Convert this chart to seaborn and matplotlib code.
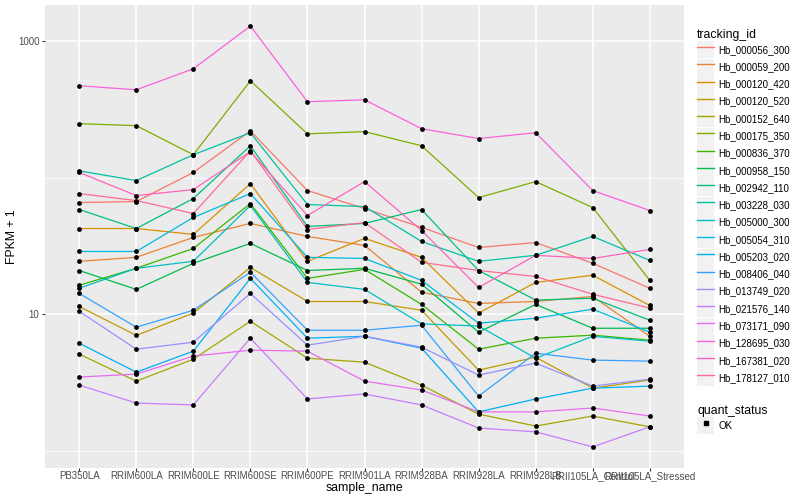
import numpy as np
import pandas as pd
import matplotlib
matplotlib.use("Agg")
import matplotlib.pyplot as plt
import seaborn as sns
from matplotlib.lines import Line2D
from matplotlib.patches import Rectangle
from matplotlib.ticker import FixedLocator, NullFormatter

# Data (FPKM + 1, log axis)
sample_names = ["PB350LA", "RRIM600LA", "RRIM600LE", "RRIM600SE", "RRIM600PE",
                "RRIM901LA", "RRIM928BA", "RRIM928LA", "RRIM928LB",
                "RRII105LA_Control", "RRII105LA_Stressed"]

hb_000056_300 = [65.7, 66.8, 109, 220, 80.4, 59.4, 43.2, 30.8, 33.5, 23.6, 15.5]
hb_000059_200 = [24.4, 26.1, 36.5, 46.2, 37.1, 31.9, 14.5, 12.0, 12.4, 13.5, 6.9]
hb_000120_420 = [42.4, 42.4, 38.4, 90.4, 24.4, 35.9, 26.1, 10.2, 17.1, 19.3, 11.6]
hb_000120_520 = [11.4, 7.0, 10.2, 22.0, 12.4, 12.4, 10.7, 3.9, 4.85, 2.88, 3.3]
hb_000152_640 = [5.11, 3.24, 4.69, 8.89, 4.77, 4.46, 3.03, 1.86, 1.52, 1.80, 1.50]
hb_000175_350 = [248, 240, 147, 511, 209, 217, 171, 71.4, 93.5, 60.4, 17.7]
hb_000836_370 = [16.3, 21.7, 30.3, 64.6, 18.3, 21.3, 11.8, 5.55, 6.68, 7.03, 6.46]
hb_000958_150 = [20.9, 15.2, 23.6, 33.0, 20.9, 21.7, 16.6, 7.39, 11.8, 7.9, 7.9]
hb_002942_110 = [58.4, 42.4, 70.3, 171, 43.9, 46.2, 58.4, 20.9, 12.7, 13.1, 9.04]
hb_003228_030 = [112, 95.1, 147, 213, 63.5, 61.4, 34.1, 24.4, 27.0, 37.1, 24.8]
hb_005000_300 = [15.5, 21.7, 24.4, 62.5, 17.1, 15.2, 8.5, 8.2, 4.77, 6.9, 6.35]
hb_005054_310 = [28.8, 28.8, 51.1, 76.4, 26.1, 25.6, 17.7, 8.6, 9.35, 10.9, 7.39]
hb_005203_020 = [6.14, 3.77, 5.37, 18.3, 6.68, 6.9, 5.65, 1.93, 2.40, 2.88, 2.98]
hb_008406_040 = [14.2, 8.04, 10.7, 20.3, 7.64, 7.64, 8.31, 2.52, 5.19, 4.62, 4.54]
hb_013749_020 = [10.5, 5.55, 6.25, 14.2, 5.94, 6.9, 5.74, 3.59, 4.39, 2.98, 3.35]
hb_021576_140 = [3.03, 2.24, 2.17, 6.68, 2.40, 2.61, 2.17, 1.47, 1.38, 1.07, 1.50]
hb_073171_090 = [3.47, 3.65, 4.94, 5.46, 5.37, 3.24, 2.79, 1.93, 1.93, 2.06, 1.80]
hb_128695_030 = [470, 439, 625, 1286, 359, 371, 228, 193, 213, 80.4, 57.4]
hb_167381_020 = [109, 73.9, 81.7, 155, 52.8, 93.5, 41.0, 15.7, 27.0, 25.6, 29.8]
hb_178127_010 = [76.4, 67.9, 54.6, 157, 41.7, 46.9, 24.0, 20.9, 18.9, 14.0, 11.1]

tracking_ids = ["Hb_000056_300", "Hb_000059_200", "Hb_000120_420", "Hb_000120_520",
                "Hb_000152_640", "Hb_000175_350", "Hb_000836_370", "Hb_000958_150",
                "Hb_002942_110", "Hb_003228_030", "Hb_005000_300", "Hb_005054_310",
                "Hb_005203_020", "Hb_008406_040", "Hb_013749_020", "Hb_021576_140",
                "Hb_073171_090", "Hb_128695_030", "Hb_167381_020", "Hb_178127_010"]
series = [hb_000056_300, hb_000059_200, hb_000120_420, hb_000120_520,
          hb_000152_640, hb_000175_350, hb_000836_370, hb_000958_150,
          hb_002942_110, hb_003228_030, hb_005000_300, hb_005054_310,
          hb_005203_020, hb_008406_040, hb_013749_020, hb_021576_140,
          hb_073171_090, hb_128695_030, hb_167381_020, hb_178127_010]

# ggplot default hue palette for 20 levels
colors = ["#F8766D", "#EA8331", "#D89000", "#C09B00", "#A3A500", "#7CAE00",
          "#39B600", "#00BB4E", "#00BF7D", "#00C1A3", "#00BFC4", "#00BAE0",
          "#00B0F6", "#35A2FF", "#9590FF", "#C77CFF", "#E76BF3", "#FA62DB",
          "#FF62BC", "#FF6C91"]

rows = []
for tid, vals in zip(tracking_ids, series):
    for s, v in zip(sample_names, vals):
        rows.append({"tracking_id": tid, "sample_name": s, "fpkm": v, "quant_status": "OK"})
df = pd.DataFrame(rows)
df["x"] = df["sample_name"].map({s: i for i, s in enumerate(sample_names)})

plt.rcParams["font.family"] = ["Liberation Sans", "DejaVu Sans"]

fig = plt.figure(figsize=(8, 5), dpi=100)
ax = fig.add_axes([45 / 800, 1 - 468 / 500, (684 - 45) / 800, (468 - 5) / 500])
ax.set_facecolor("#EBEBEB")

sns.lineplot(data=df, x="x", y="fpkm", hue="tracking_id", hue_order=tracking_ids,
             palette=colors, estimator=None, sort=False, errorbar=None,
             linewidth=0.9, legend=False, ax=ax, zorder=3)
sns.scatterplot(data=df, x="x", y="fpkm", color="black", s=12, linewidth=0,
                marker="o", legend=False, ax=ax, zorder=4)

ax.set_yscale("log")
ax.set_xlim(-0.6, len(sample_names) - 1 + 0.6)
ax.set_ylim(10 ** -0.125, 10 ** 3.263)
ax.set_xticks(range(len(sample_names)))
ax.set_xticklabels(sample_names)
ax.yaxis.set_major_locator(FixedLocator([10, 1000]))
ax.set_yticklabels(["10", "1000"])
ax.yaxis.set_minor_locator(FixedLocator([1, 100]))
ax.yaxis.set_minor_formatter(NullFormatter())

ax.grid(which="major", color="white", linewidth=1.1, zorder=0)
ax.grid(which="minor", axis="y", color="white", linewidth=0.55, zorder=0)
ax.set_axisbelow(True)
for sp in ax.spines.values():
    sp.set_visible(False)
ax.tick_params(which="major", length=2.5, width=0.8, color="#333333",
               labelsize=7, labelcolor="#4D4D4D")
ax.tick_params(axis="x", which="major", pad=-0.5)
ax.tick_params(axis="y", which="major", pad=1.5)
ax.tick_params(which="minor", length=0)

ax.set_xlabel("sample_name", fontsize=8.8)
ax.set_ylabel("FPKM + 1", fontsize=8.8)
ax.xaxis.set_label_coords(0.5, (468 - 482) / 463)
ax.yaxis.set_label_coords((12 - 45) / 639, 0.5)
ax.xaxis.label.set_va("top")
ax.yaxis.label.set_va("center")

# legends, ggplot-like grey key boxes
key_bg = "#F2F2F2"
leg_kw = dict(loc="upper left", frameon=False, fontsize=7, title_fontsize=8.8,
              handlelength=1.75, handleheight=2.31, labelspacing=0.03,
              handletextpad=0.45, borderaxespad=0, borderpad=0)

handles = [(Rectangle((0, 0), 1, 1, facecolor=key_bg, edgecolor="none"),
            Line2D([], [], color=c, linewidth=1.0)) for c in colors]
leg1 = fig.legend(handles, tracking_ids, bbox_to_anchor=(697 / 800, 1 - 29 / 500),
                  title="tracking_id", **leg_kw)
leg1._legend_box.align = "left"

h2 = [(Rectangle((0, 0), 1, 1, facecolor=key_bg, edgecolor="none"),
       Line2D([], [], color="black", marker="s", markersize=2.5, linestyle="none"))]
leg2 = fig.legend(h2, ["OK"], bbox_to_anchor=(697 / 800, 1 - 405 / 500),
                  title="quant_status", **leg_kw)
leg2._legend_box.align = "left"

fig.savefig("out.png", dpi=100)
